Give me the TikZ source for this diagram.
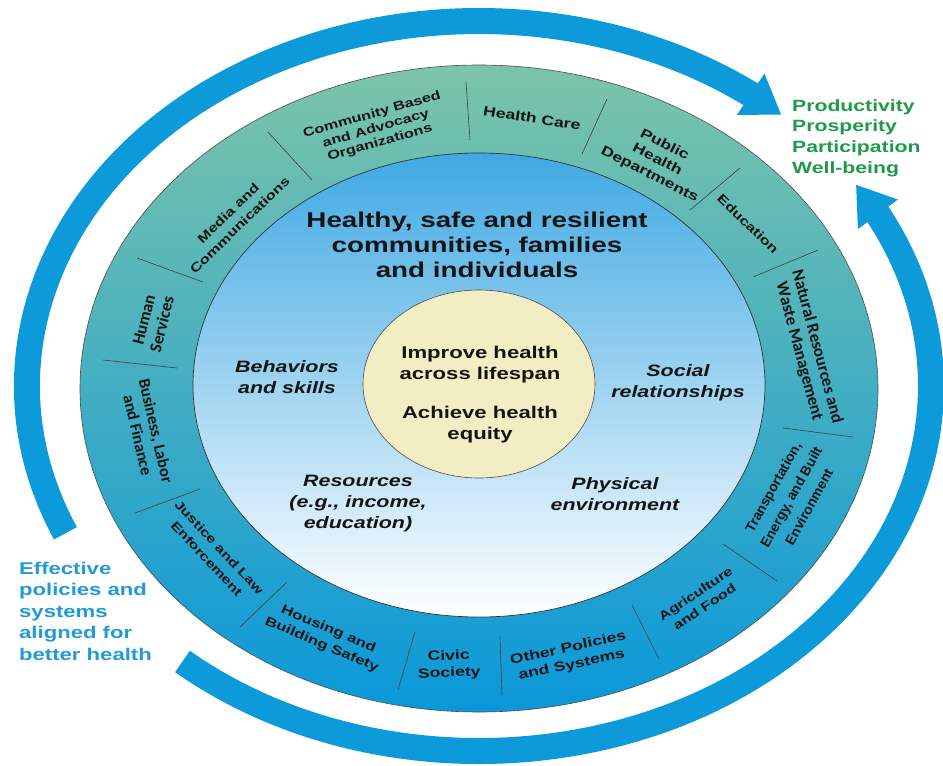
\documentclass[tikz,border=0pt]{standalone}
\usepackage{fontspec}
\setmainfont{Liberation Sans}
\newfontfamily\wf[FakeStretch=1.3]{Liberation Sans}
\newfontfamily\nf{Liberation Sans}
\newfontfamily\cf{Carlito}
\usetikzlibrary{arrows.meta,bending}
\definecolor{arrowblue}{HTML}{0C9ADA}
\definecolor{ringtop}{HTML}{7CC4A9}
\definecolor{ringmid}{HTML}{1AA6CF}
\definecolor{ringbot}{HTML}{0A98DA}
\definecolor{innertop}{HTML}{40A9E3}
\definecolor{innermid}{HTML}{A6D2F1}
\definecolor{yellowc}{HTML}{F3EDC3}
\definecolor{greentxt}{HTML}{1E9A4A}
\definecolor{bluetxt}{HTML}{219BD8}
\definecolor{segtxt}{HTML}{141414}
\newcommand\setfs[2]{\fontsize{#1}{#2}\selectfont}
\begin{document}
\begin{tikzpicture}[x=1pt,y=-1pt,
  seg/.style={align=center, inner sep=0pt, text=segtxt},
  divider/.style={draw=black!75, line width=0.6pt},
  bigarrow/.style={draw=arrowblue, line width=26pt, -{Triangle[width=47pt,length=37pt]}},
  inlabel/.style={align=center, inner sep=0pt, text=segtxt, font=\wf\bfseries\itshape\setfs{16.5}{21}},
  coretxt/.style={align=center, inner sep=0pt, text=segtxt, font=\wf\bfseries\setfs{17}{21}}
]
\useasboundingbox[fill=white] (0,0) rectangle (943,766);

% outer arrows
\coordinate (ac) at (479,386);
\draw[bigarrow] (ac) ++(203.8:452pt and 365pt) arc[start angle=203.8, end angle=48, x radius=452pt, y radius=365pt];
\draw[bigarrow] (ac) ++(229:452pt and 365pt) arc[start angle=229, end angle=393.5, x radius=452pt, y radius=365pt];

% ring, inner disc, core
\path[draw=black!70, line width=0.6pt, top color=ringtop, middle color=ringmid, bottom color=ringbot]
  (479,388.5) ellipse [x radius=399pt, y radius=323.5pt];
\path[draw=black!80, line width=0.7pt, top color=innertop, middle color=innermid, bottom color=white]
  (479,385) ellipse [x radius=286pt, y radius=232pt];
\path[draw=black!70, line width=0.6pt, fill=yellowc]
  (479,384) ellipse [x radius=116pt, y radius=94pt];

% dividers
\draw[divider] (268,132) -- (312,180);
\draw[divider] (466,82) -- (470,140);
\draw[divider] (607,99) -- (582,154);
\draw[divider] (740,168) -- (690,210);
\draw[divider] (818,250) -- (753,277);
\draw[divider] (783,428) -- (853,437);
\draw[divider] (723,544) -- (777,581);
\draw[divider] (632,605) -- (659,659);
\draw[divider] (500,637) -- (502,695);
\draw[divider] (415,632) -- (398,690);
\draw[divider] (287,582) -- (240,627);
\draw[divider] (200,489) -- (135,513);
\draw[divider] (103,360) -- (177,368);
\draw[divider] (137,258) -- (203,282);

% ring labels
\node[seg, rotate=16, font=\wf\bfseries\setfs{12.5}{14.5}] (cb) at (376,129) {Community Based\\and Advocacy\\Organizations};
\node[seg, rotate=-9, font=\wf\bfseries\setfs{13.6}{16}] (hc) at (532,118) {Health Care};
\node[seg, rotate=-27, font=\wf\bfseries\setfs{13.5}{16.5}] (ph) at (657,160) {Public\\Health\\Departments};
\node[seg, rotate=-44, font=\wf\bfseries\setfs{12.6}{15}] (ed) at (748,224) {Education};
\node[seg, rotate=-75, font=\cf\bfseries\setfs{17}{18.5}] (nr) at (808,349) {Natural Resources and\\Waste Management};
\node[seg, rotate=61, font=\nf\bfseries\setfs{13.8}{20.5}] (te) at (791,497) {Transportation,\\Energy, and Built\\Environment};
\node[seg, rotate=34, font=\wf\bfseries\setfs{12.4}{16}] (ag) at (700,600) {Agriculture\\and Food};
\node[seg, rotate=12, font=\wf\bfseries\setfs{13.5}{17}] (op) at (570,657) {Other Policies\\and Systems};
\node[seg, rotate=2, font=\wf\bfseries\setfs{13.5}{17}] (cs) at (449,665) {Civic\\Society};
\node[seg, rotate=-23, font=\wf\bfseries\setfs{12.9}{17}] (hb) at (325,637) {Housing and\\Building Safety};
\node[seg, rotate=-47, font=\wf\bfseries\setfs{12.3}{17}] (jl) at (213,553) {Justice and Law\\Enforcement};
\node[seg, rotate=-77, font=\cf\bfseries\setfs{16.5}{18.5}] (bl) at (147,433) {Business, Labor\\and Finance};
\node[seg, rotate=76, font=\cf\bfseries\setfs{17}{18.5}] (hs) at (153,322) {Human\\Services};
\node[seg, rotate=44, font=\wf\bfseries\setfs{12.6}{16.5}] (mc) at (234,219) {Media and\\Communications};

% inner disc texts
\node[align=center, inner sep=0pt, text=segtxt, font=\wf\bfseries\setfs{21.4}{25}] (title) at (477,245) {Healthy, safe and resilient\\communities, families\\and individuals};
\node[inlabel] (beh) at (287,377) {Behaviors\\and skills};
\node[inlabel] (soc) at (678,383) {Social\\relationships};
\node[inlabel] (res) at (358,504) {Resources\\(e.g., income,\\education)};
\node[inlabel] (phy) at (615,494) {Physical\\environment};

% core texts
\node[coretxt] (imp) at (480,365) {Improve health\\across lifespan};
\node[coretxt] (ach) at (480,425) {Achieve health\\equity};

% outcomes
\node[anchor=west, align=left, inner sep=0pt, text=greentxt, font=\wf\bfseries\setfs{16.3}{20.7}] (out) at (792,138) {Productivity\\Prosperity\\Participation\\Well-being};
\node[anchor=west, align=left, inner sep=0pt, text=bluetxt, font=\wf\bfseries\setfs{17}{21.5}] (pol) at (19,611) {Effective\\policies and\\systems\\aligned for\\better health};
\end{tikzpicture}
\end{document}
